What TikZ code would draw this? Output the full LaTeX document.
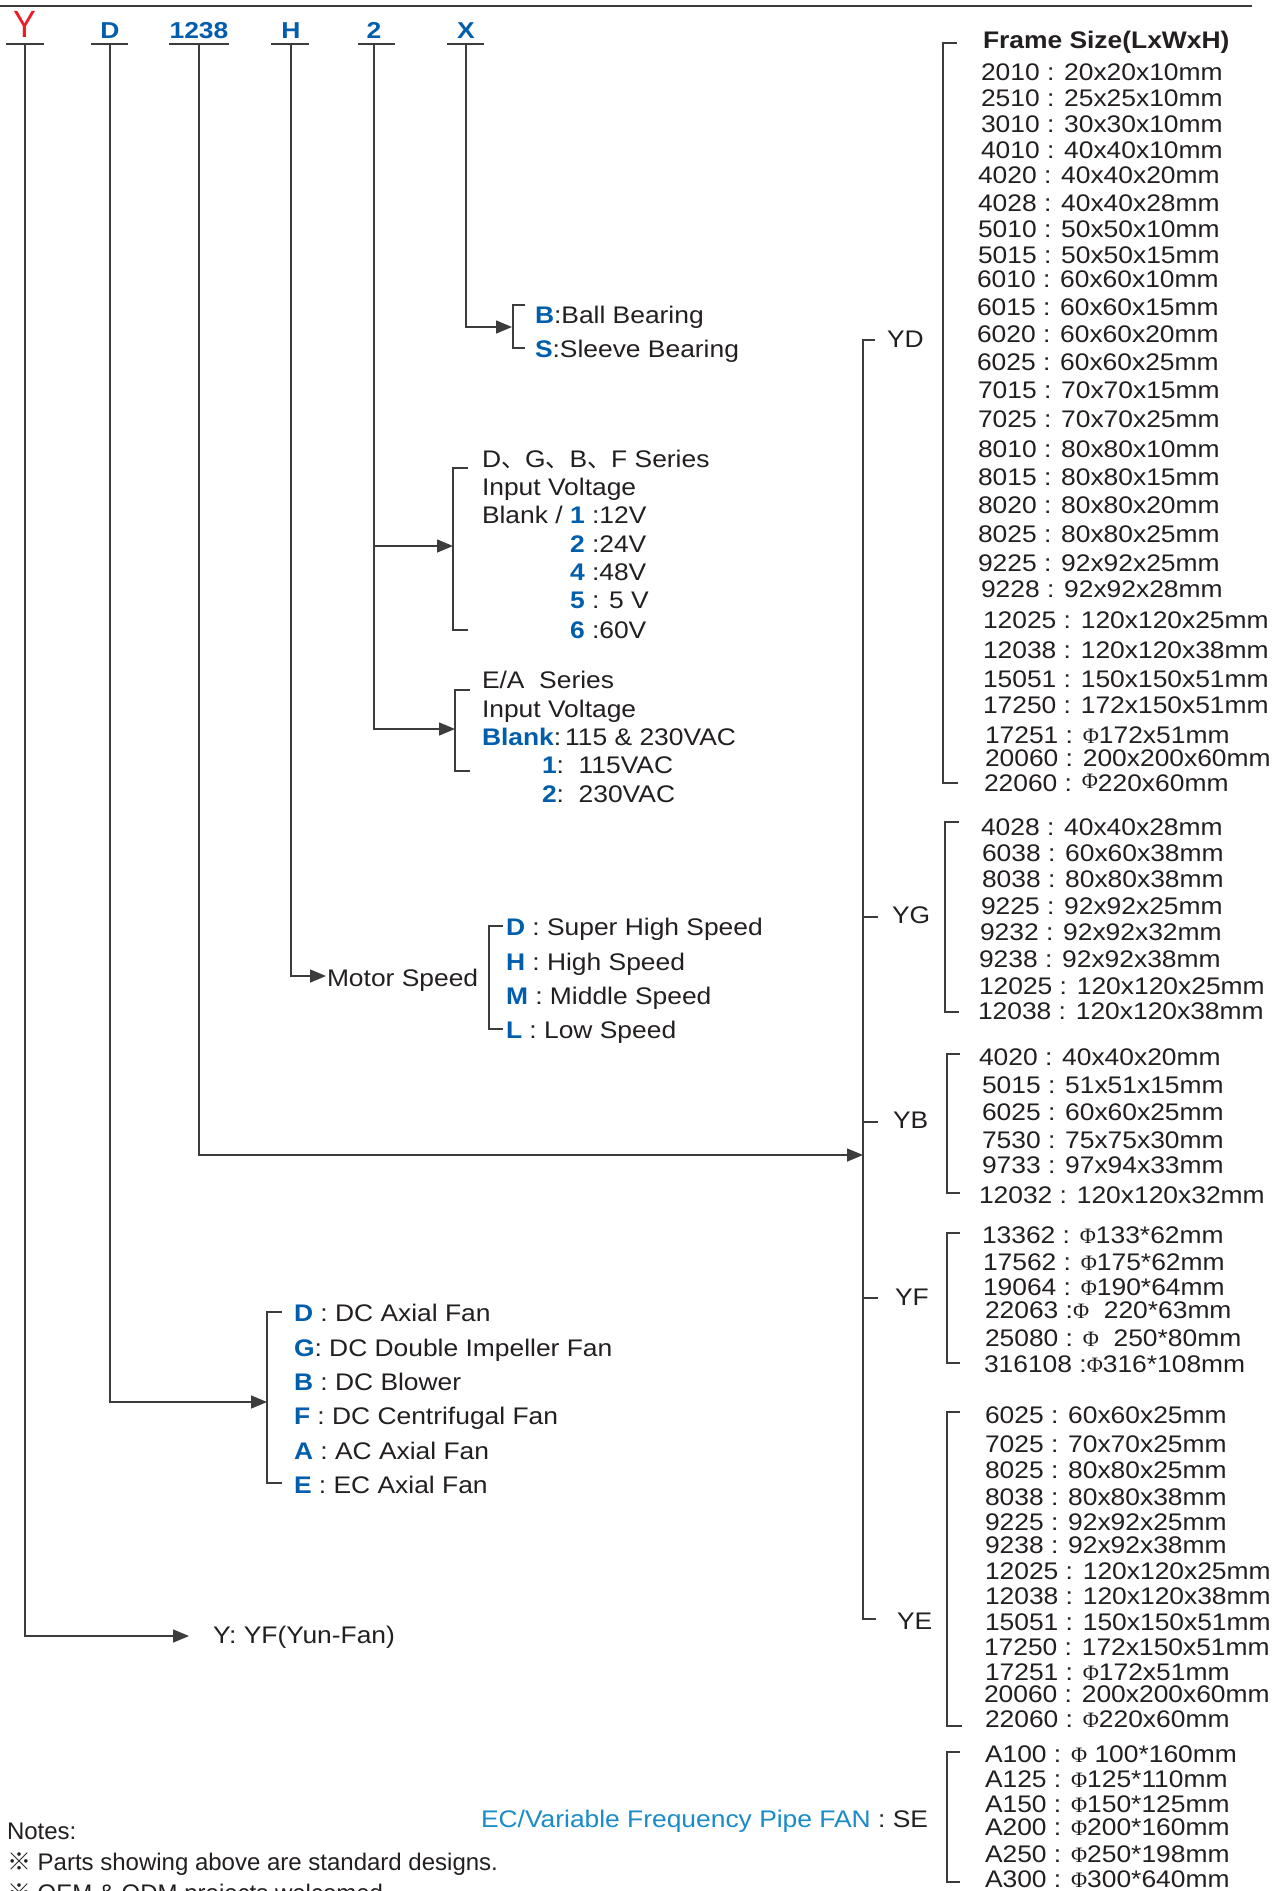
\documentclass[tikz,border=0pt]{standalone}
\usepackage{fontspec}
\usetikzlibrary{arrows.meta}
\setmainfont{Liberation Sans}[FakeStretch=1.1]
\newfontfamily\plainfont{Liberation Sans}
\newfontfamily\codefont{Liberation Sans}[FakeStretch=1.15]
\newfontfamily\redfont{Liberation Sans}[FakeStretch=0.9]
\newfontfamily\phifont{Liberation Serif}
\newfontfamily\cjkfont{Noto Sans CJK SC}
\definecolor{cblue}{RGB}{0,94,172}
\definecolor{lblue}{RGB}{25,140,200}
\definecolor{cred}{RGB}{237,28,36}
\definecolor{ink}{RGB}{35,31,32}
\definecolor{wirec}{RGB}{60,60,60}
\newcommand\cb[1]{\textcolor{cblue}{\bfseries #1}}
\newcommand\PH{{\phifont\fontsize{11}{11}\selectfont Φ}}
\newcommand\PHr{\raisebox{1.5pt}{\PH}}
\newcommand\refmark{{\cjkfont ※}}
\newcommand\dun{{\cjkfont 、}}
\begin{document}
\begin{tikzpicture}[x=0.5pt,y=-0.5pt,
  txt/.style={anchor=base west,inner sep=0pt,outer sep=0pt,text=ink,font=\fontsize{12}{14}\selectfont},
  ntxt/.style={anchor=base west,inner sep=0pt,outer sep=0pt,text=ink,font=\plainfont\fontsize{12}{14}\selectfont},
  lab/.style={anchor=west,inner sep=0pt,outer sep=0pt,text=ink,font=\fontsize{12}{14}\selectfont},
  code/.style={anchor=base,inner sep=0pt,text=cblue,font=\codefont\bfseries\fontsize{11.5}{13}\selectfont},
  wire/.style={draw=wirec,line width=0.75pt},
  arr/.style={wire,-{Triangle[length=8pt,width=6.5pt]}},
  brk/.style={draw=wirec,line width=0.7pt},
]
\useasboundingbox (0,0) rectangle (1273,1891);
\fill[white] (0,0) rectangle (1273,1891);
\clip (0,0) rectangle (1273,1891);
% top rule
\draw[wire] (0,6) -- (1252,6);
% header codes
\node[code,text=cred,font=\redfont\fontsize{19}{21}\selectfont] (hY) at (25,37) {Y};
\node[code] (hD) at (110,38) {D};
\node[code] (h1238) at (199,38) {1238};
\node[code] (hH) at (291,38) {H};
\node[code] (h2) at (374,38) {2};
\node[code] (hX) at (466,38) {X};
\foreach \a/\b in {6/44, 91/128, 169/229, 271/309, 358/395, 447/484}
  \draw[wire] (\a,44) -- (\b,44);
\coordinate (uY) at (25,44);
\coordinate (uD) at (110,44);
\coordinate (u1238) at (199,44);
\coordinate (uH) at (291,44);
\coordinate (u2) at (374,44);
\coordinate (uX) at (466,44);
% arrow targets
\coordinate (tX) at (512,327);
\coordinate (t2a) at (453,546);
\coordinate (t2b) at (455,729);
\coordinate (tH) at (326,976);
\coordinate (t1238) at (863,1155);
\coordinate (tD) at (267,1402);
\coordinate (tY) at (189,1636);
\draw[arr] (uX) |- (tX);
\draw[arr] (u2) |- (t2b);
\draw[arr] (u2 |- t2a) -- (t2a);
\draw[arr] (uH) |- (tH);
\draw[arr] (u1238) |- (t1238);
\draw[arr] (uD) |- (tD);
\draw[arr] (uY) |- (tY);
% brackets
\draw[brk] (525,305) -- (513,305) -- (513,348) -- (525,348);
\draw[brk] (468,468) -- (453,468) -- (453,630) -- (468,630);
\draw[brk] (470,690) -- (455,690) -- (455,771) -- (470,771);
\draw[brk] (503,926) -- (489,926) -- (489,1029) -- (503,1029);
\draw[brk] (282,1312) -- (267,1312) -- (267,1483) -- (282,1483);
% spine
\draw[brk] (875,340) -- (863,340) -- (863,1619) -- (876,1619);
\draw[brk] (863,917) -- (878,917);
\draw[brk] (863,1122) -- (878,1122);
\draw[brk] (863,1298) -- (878,1298);
% sub brackets
\draw[brk] (957,43) -- (943,43) -- (943,783) -- (958,783);
\draw[brk] (959,822) -- (945,822) -- (945,1012) -- (959,1012);
\draw[brk] (960,1054) -- (947,1054) -- (947,1193) -- (960,1193);
\draw[brk] (960,1233) -- (947,1233) -- (947,1363) -- (960,1363);
\draw[brk] (960,1412) -- (947,1412) -- (947,1726) -- (962,1726);
\draw[brk] (960,1752) -- (947,1752) -- (947,1882) -- (960,1882);
% bearing
\node[txt] (bb) at (535,323) {\cb{B}:Ball Bearing};
\node[txt] (sb) at (535,357) {\cb{S}:Sleeve Bearing};
% DGBF voltage
\node[txt] (dg1) at (482,467) {D\dun G\dun B\dun F Series};
\node[txt] (dg2) at (482,495) {Input Voltage};
\node[txt] (dg3) at (482,523) {Blank / \cb{1} :12V};
\node[txt] (dg4) at (570,552) {\cb{2} :24V};
\node[txt] (dg5) at (570,580) {\cb{4} :48V};
\node[txt] (dg6) at (570,608) {\cb{5} : 5 V};
\node[txt] (dg7) at (570,638) {\cb{6} :60V};
% EA voltage
\node[txt] (ea1) at (482,688) {E/A\ \ Series};
\node[txt] (ea2) at (482,717) {Input Voltage};
\node[txt] (ea3) at (482,745) {\cb{Blank}:\,115 \& 230VAC};
\node[txt] (ea4) at (542,773) {\cb{1}:\ \ 115VAC};
\node[txt] (ea5) at (542,802) {\cb{2}:\ \ 230VAC};
% motor speed
\node[txt] (ms) at (327,986) {Motor Speed};
\node[txt] (sp1) at (506,935) {\cb{D} : Super High Speed};
\node[txt] (sp2) at (506,970) {\cb{H} : High Speed};
\node[txt] (sp3) at (506,1004) {\cb{M} : Middle Speed};
\node[txt] (sp4) at (506,1038) {\cb{L} : Low Speed};
% fan type
\node[txt] (ft1) at (294,1321) {\cb{D} : DC Axial Fan};
\node[txt] (ft2) at (294,1356) {\cb{G}: DC Double Impeller Fan};
\node[txt] (ft3) at (294,1390) {\cb{B} : DC Blower};
\node[txt] (ft4) at (294,1424) {\cb{F} : DC Centrifugal Fan};
\node[txt] (ft5) at (294,1459) {\cb{A} : AC Axial Fan};
\node[txt] (ft6) at (294,1493) {\cb{E} : EC Axial Fan};
% brand
\node[txt] (yf) at (213,1643) {Y: YF(Yun-Fan)};
% series labels
\node[lab] (lYD) at (887,339) {YD};
\node[lab] (lYG) at (892,915) {YG};
\node[lab] (lYB) at (893,1120) {YB};
\node[lab] (lYF) at (895,1297) {YF};
\node[lab] (lYE) at (897,1621) {YE};
\node[txt] (lSE) at (481,1827) {\textcolor{lblue}{EC/Variable Frequency Pipe FAN} : SE};
% frame size
\node[txt,font=\bfseries\fontsize{12}{14}\selectfont] (fs) at (983,48) {Frame Size(LxWxH)};
\foreach \i/\x/\y/\t in {
 1/981/80/{2010 : 20x20x10mm}, 2/981/106/{2510 : 25x25x10mm},
 3/981/132/{3010 : 30x30x10mm}, 4/981/158/{4010 : 40x40x10mm},
 5/978/183/{4020 : 40x40x20mm}, 6/978/211/{4028 : 40x40x28mm},
 7/978/237/{5010 : 50x50x10mm}, 8/978/263/{5015 : 50x50x15mm},
 9/977/287/{6010 : 60x60x10mm}, 10/977/315/{6015 : 60x60x15mm},
 11/977/342/{6020 : 60x60x20mm}, 12/977/370/{6025 : 60x60x25mm},
 13/978/398/{7015 : 70x70x15mm}, 14/978/427/{7025 : 70x70x25mm},
 15/978/457/{8010 : 80x80x10mm}, 16/978/485/{8015 : 80x80x15mm},
 17/978/513/{8020 : 80x80x20mm}, 18/978/542/{8025 : 80x80x25mm},
 19/978/571/{9225 : 92x92x25mm}, 20/981/597/{9228 : 92x92x28mm},
 21/983/628/{12025 : 120x120x25mm}, 22/983/658/{12038 : 120x120x38mm},
 23/983/687/{15051 : 150x150x51mm}, 24/983/713/{17250 : 172x150x51mm},
 25/985/743/{17251 : \PH172x51mm}, 26/985/766/{20060 : 200x200x60mm},
 27/984/791/{22060 : \PHr220x60mm}}
  \node[txt] (yd\i) at (\x,\y) {\t};
\foreach \i/\x/\y/\t in {
 1/981/835/{4028 : 40x40x28mm}, 2/982/861/{6038 : 60x60x38mm},
 3/982/887/{8038 : 80x80x38mm}, 4/981/914/{9225 : 92x92x25mm},
 5/980/940/{9232 : 92x92x32mm}, 6/979/967/{9238 : 92x92x38mm},
 7/979/994/{12025 : 120x120x25mm}, 8/978/1019/{12038 : 120x120x38mm}}
  \node[txt] (yg\i) at (\x,\y) {\t};
\foreach \i/\x/\y/\t in {
 1/979/1065/{4020 : 40x40x20mm}, 2/982/1093/{5015 : 51x51x15mm},
 3/982/1120/{6025 : 60x60x25mm}, 4/982/1148/{7530 : 75x75x30mm},
 5/982/1173/{9733 : 97x94x33mm}, 6/979/1203/{12032 : 120x120x32mm}}
  \node[txt] (yb\i) at (\x,\y) {\t};
\foreach \i/\x/\y/\t in {
 1/982/1243/{13362 : \PH133*62mm}, 2/983/1270/{17562 : \PH175*62mm},
 3/983/1295/{19064 : \PH190*64mm}, 4/985/1318/{22063 :\PH\ \ 220*63mm},
 5/985/1346/{25080 : \PH\ \ 250*80mm}, 6/984/1372/{316108 :\PH316*108mm}}
  \node[txt] (yfl\i) at (\x,\y) {\t};
\foreach \i/\x/\y/\t in {
 1/985/1423/{6025 : 60x60x25mm}, 2/985/1452/{7025 : 70x70x25mm},
 3/985/1478/{8025 : 80x80x25mm}, 4/985/1505/{8038 : 80x80x38mm},
 5/985/1530/{9225 : 92x92x25mm}, 6/985/1553/{9238 : 92x92x38mm},
 7/985/1579/{12025 : 120x120x25mm}, 8/985/1604/{12038 : 120x120x38mm},
 9/985/1630/{15051 : 150x150x51mm}, 10/984/1655/{17250 : 172x150x51mm},
 11/985/1680/{17251 : \PH172x51mm}, 12/984/1702/{20060 : 200x200x60mm},
 13/985/1727/{22060 : \PH220x60mm}}
  \node[txt] (ye\i) at (\x,\y) {\t};
\foreach \i/\x/\y/\t in {
 1/985/1762/{A100 : \PH\ 100*160mm}, 2/985/1787/{A125 : \PH125*110mm},
 3/985/1812/{A150 : \PH150*125mm}, 4/985/1835/{A200 : \PH200*160mm},
 5/985/1862/{A250 : \PH250*198mm}, 6/985/1887/{A300 : \PH300*640mm}}
  \node[txt] (se\i) at (\x,\y) {\t};
% notes
\node[ntxt] (n1) at (7,1839) {Notes:};
\node[ntxt] (n2) at (7,1870) {\refmark\ Parts showing above are standard designs.};
\node[ntxt] (n3) at (7,1901) {\refmark\ OEM \& ODM projects welcomed.};
\end{tikzpicture}
\end{document}
